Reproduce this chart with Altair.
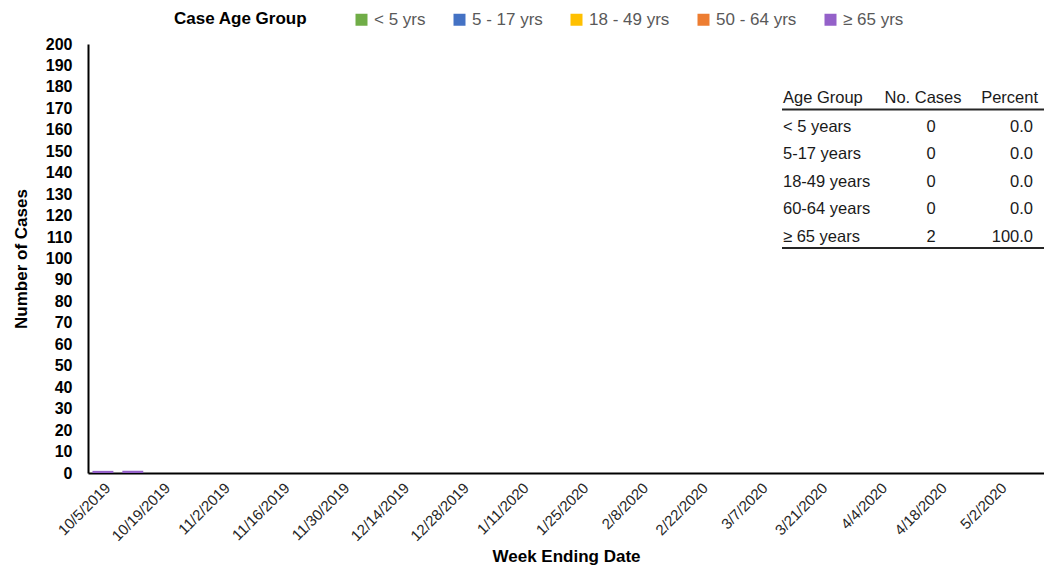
import altair as alt
import pandas as pd

weeks = ["10/5/2019","10/12/2019","10/19/2019","10/26/2019","11/2/2019","11/9/2019",
         "11/16/2019","11/23/2019","11/30/2019","12/7/2019","12/14/2019","12/21/2019",
         "12/28/2019","1/4/2020","1/11/2020","1/18/2020","1/25/2020","2/1/2020",
         "2/8/2020","2/15/2020","2/22/2020","2/29/2020","3/7/2020","3/14/2020",
         "3/21/2020","3/28/2020","4/4/2020","4/11/2020","4/18/2020","4/25/2020",
         "5/2/2020","5/9/2020"]
tick_labels = weeks[::2][:16]

groups = ["< 5 yrs", "5 - 17 yrs", "18 - 49 yrs", "50 - 64 yrs", "\u2265 65 yrs"]
colors = ["#70AD47", "#4472C4", "#FFC000", "#ED7D31", "#9461C9"]

under5 = [0,0,0,0,0,0,0,0,0,0,0,0,0,0,0,0,0,0,0,0,0,0,0,0,0,0,0,0,0,0,0,0]
age5_17 = [0,0,0,0,0,0,0,0,0,0,0,0,0,0,0,0,0,0,0,0,0,0,0,0,0,0,0,0,0,0,0,0]
age18_49 = [0,0,0,0,0,0,0,0,0,0,0,0,0,0,0,0,0,0,0,0,0,0,0,0,0,0,0,0,0,0,0,0]
age50_64 = [0,0,0,0,0,0,0,0,0,0,0,0,0,0,0,0,0,0,0,0,0,0,0,0,0,0,0,0,0,0,0,0]
age65 = [1,1,0,0,0,0,0,0,0,0,0,0,0,0,0,0,0,0,0,0,0,0,0,0,0,0,0,0,0,0,0,0]

table_header = ["Age Group", "No. Cases", "Percent"]
table_groups = ["< 5 years", "5-17 years", "18-49 years", "60-64 years", "\u2265 65 years"]
table_cases = ["0", "0", "0", "0", "2"]
table_pct = ["0.0", "0.0", "0.0", "0.0", "100.0"]

FONT = "Liberation Sans"

rows = []
series = [under5, age5_17, age18_49, age50_64, age65]
for gi, (g, vals) in enumerate(zip(groups, series)):
    for w, v in zip(weeks, vals):
        rows.append({"week": w, "group": g, "order": gi, "cases": v})
df = pd.DataFrame(rows)

bars = alt.Chart(df).mark_bar().encode(
    x=alt.X("week:N", sort=weeks,
            scale=alt.Scale(paddingInner=0.3, paddingOuter=0.15),
            axis=alt.Axis(title="Week Ending Date", values=tick_labels, labelAngle=-45,
                          labelFontSize=15, labelColor="#262626", labelFont=FONT,
                          ticks=False, labelPadding=7, domainColor="#000000", domainWidth=2,
                          titleFontSize=17, titleFontWeight="bold", titleFont=FONT,
                          titleColor="#000000", titlePadding=5)),
    y=alt.Y("cases:Q", stack="zero",
            scale=alt.Scale(domain=[0, 200]),
            axis=alt.Axis(title="Number of Cases", values=list(range(0, 201, 10)),
                          labelFontSize=16, labelFontWeight="bold", labelColor="#000000",
                          labelFont=FONT, ticks=False, labelPadding=16, grid=False,
                          domainColor="#000000", domainWidth=2,
                          titleFontSize=17, titleFontWeight="bold", titleFont=FONT,
                          titleColor="#000000", titlePadding=15)),
    color=alt.Color("group:N", sort=groups,
                    scale=alt.Scale(domain=groups, range=colors),
                    legend=alt.Legend(title="Case Age Group", orient="none",
                                      legendX=86, legendY=-33, direction="horizontal",
                                      titleOrient="left", titlePadding=45,
                                      titleFontSize=17, titleFontWeight="bold",
                                      titleFont=FONT, titleColor="#000000",
                                      labelFontSize=17, labelFont=FONT, labelColor="#595959",
                                      symbolType="square", symbolSize=144,
                                      symbolStrokeWidth=0, labelOffset=4,
                                      columnPadding=25)),
    order=alt.Order("order:Q"),
)

layers = [bars]

col_x = [695, 843, 945]
col_align = ["left", "center", "right"]
hdr_x = [695, 835, 950]
hdr_align = ["left", "center", "right"]
row_y = [83, 110, 138, 165, 193]
TS = 16.5

for txt, x, a in zip(table_header, hdr_x, hdr_align):
    layers.append(alt.Chart(pd.DataFrame({"t": [txt]})).mark_text(
        align=a, baseline="middle", fontSize=TS, font=FONT, color="#1a1a1a"
    ).encode(text="t:N", x=alt.value(x), y=alt.value(54)))

for ci, col in enumerate([table_groups, table_cases, table_pct]):
    for txt, y in zip(col, row_y):
        layers.append(alt.Chart(pd.DataFrame({"t": [txt]})).mark_text(
            align=col_align[ci], baseline="middle", fontSize=TS, font=FONT, color="#1a1a1a"
        ).encode(text="t:N", x=alt.value(col_x[ci]), y=alt.value(y)))

for ly in [65.5, 204]:
    layers.append(alt.Chart(pd.DataFrame({"t": [0]})).mark_rule(
        color="#262626", strokeWidth=2
    ).encode(x=alt.value(694), x2=alt.value(962), y=alt.value(ly)))

chart = alt.layer(*layers).properties(
    width=956, height=429,
    padding={"left": 80, "top": 36, "right": 0, "bottom": 98},
    autosize=alt.AutoSizeParams(type="none"),
).configure_view(stroke=None)

chart.save("out.html", embed_options={"renderer": "svg", "actions": False})
